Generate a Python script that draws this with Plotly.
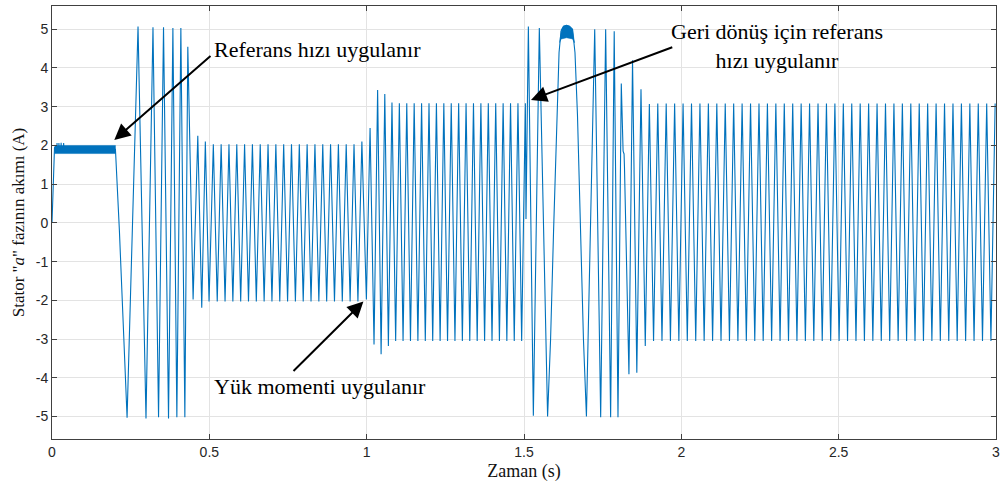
import numpy as np
import plotly.graph_objects as go

# ---------------------------------------------------------------
# Stator phase "a" current (A) versus time (s)
# ---------------------------------------------------------------

# start-up: current settles at ~1.9 A with fast switching ripple
startup_t = [0.0, 0.008, 0.015, 0.016, 0.017, 0.021, 0.022, 0.023, 0.028, 0.029,
             0.030, 0.036, 0.037, 0.038, 0.2016]
startup_i = [0.0, 1.95, 1.85, 2.06, 1.85, 1.85, 2.06, 1.85, 1.85, 2.07,
             1.85, 1.85, 2.06, 1.85, 1.9]
ripple1_t = [0.008, 0.2016, 0.2016, 0.008]
ripple1_i = [1.79, 1.79, 2.0, 2.0]

# acceleration after the speed reference is applied (peaks / troughs)
accel_t = [0.2142, 0.2386, 0.2734, 0.2987, 0.3209, 0.3386, 0.3544, 0.3703, 0.3842,
           0.3968, 0.4095, 0.4222, 0.4316, 0.4484, 0.4633, 0.4759, 0.4873, 0.4991]
accel_i = [-0.2, -5.03, 5.07, -5.05, 5.05, -5.02, 5.05, -5.05, 5.03,
           -5.02, 5.03, -5.02, 4.55, -1.98, 2.25, -2.19, 2.10, -2.03]

# load torque step around 1.0 s
load_t = [0.9848, 0.9991, 1.0108, 1.0234, 1.0348, 1.0459, 1.0576, 1.0690, 1.0804]
load_i = [2.10, -1.98, 2.45, -3.14, 3.43, -3.39, 3.33, -3.18, 3.11]

# speed reversal around 1.5 s
rev_t = [1.5063, 1.5139, 1.5297, 1.5487, 1.5750, 1.5845, 1.5940, 1.6035, 1.6114,
         1.6177, 1.6256, 1.6351, 1.6446, 1.6541, 1.6620, 1.6699, 1.6794, 1.6889,
         1.6984, 1.7247, 1.7437, 1.7595, 1.7753, 1.7867, 1.7987, 1.8092, 1.8149,
         1.8180, 1.8193, 1.8335, 1.8449, 1.8585, 1.8718, 1.8854, 1.8984]
rev_i = [0.10, 5.07, -4.98, 5.03, -5.0, -3.0, -0.2, 2.6, 4.4,
         4.95, 5.08, 5.10, 5.08, 5.0, 4.4, 2.8, 0.0, -3.0,
         -5.0, 5.0, -5.02, 5.0, -5.02, 4.95, -5.02, 3.6, 1.85,
         1.78, 1.45, -3.91, 4.2, -3.87, 3.45, -3.18, 3.07]
ripple2_t = [1.6130, 1.6193, 1.6256, 1.6351, 1.6446, 1.6541, 1.6604,
             1.6541, 1.6351, 1.6193]
ripple2_i = [4.65, 5.0, 5.08, 5.10, 5.08, 5.0, 4.65,
             4.75, 4.78, 4.75]

# steady-state oscillation blocks: first extremum time, period (s),
# number of extrema, peak, trough, and whether the block starts on a peak
blk_start = [0.5127, 1.0921, 1.9117]
blk_period = [0.02484, 0.023557, 0.026804]
blk_count = [38, 36, 82]
blk_peak = [2.03, 3.09, 3.08]
blk_trough = [-2.03, -3.05, -3.05]
blk_peak_first = [True, False, False]


def block(k):
    n = blk_count[k]
    t = [blk_start[k] + j * blk_period[k] / 2 for j in range(n)]
    hi = [(j % 2 == 0) == blk_peak_first[k] for j in range(n)]
    v = [blk_peak[k] if h else blk_trough[k] for h in hi]
    return t, v


bA_t, bA_i = block(0)
bB_t, bB_i = block(1)
bC_t, bC_i = block(2)

t_all = startup_t + accel_t + bA_t + load_t + bB_t + rev_t + bC_t
i_all = startup_i + accel_i + bA_i + load_i + bB_i + rev_i + bC_i

BLUE = "#0072BD"
SERIF = "Liberation Serif, Times New Roman, serif"
SANS = "Liberation Sans, Arial, sans-serif"

fig = go.Figure()
fig.add_trace(go.Scatter(x=ripple1_t, y=ripple1_i, fill="toself", mode="lines",
                         line=dict(color=BLUE, width=0.5), fillcolor=BLUE,
                         hoverinfo="skip"))
fig.add_trace(go.Scatter(x=ripple2_t, y=ripple2_i, fill="toself", mode="lines",
                         line=dict(color=BLUE, width=0.5), fillcolor=BLUE,
                         hoverinfo="skip"))
fig.add_trace(go.Scatter(x=t_all, y=i_all, mode="lines",
                         line=dict(color=BLUE, width=1.1)))

axis_common = dict(
    showgrid=True, gridcolor="#e3e3e3", gridwidth=1,
    zeroline=False, showline=True, linecolor="#404040", linewidth=1,
    mirror="ticks", ticks="inside", ticklen=5, tickcolor="#404040",
    tickfont=dict(family=SANS, size=14, color="#262626"),
)

x_ticks = [0, 0.5, 1, 1.5, 2, 2.5, 3]
x_labels = ["0", "0.5", "1", "1.5", "2", "2.5", "3"]
y_ticks = [-5, -4, -3, -2, -1, 0, 1, 2, 3, 4, 5]

fig.update_xaxes(range=[0, 3], tickvals=x_ticks, ticktext=x_labels,
                 ticklabeloverflow="allow",
                 title=dict(text="Zaman (s)", font=dict(family=SERIF, size=18, color="#111"),
                            standoff=5),
                 **axis_common)
fig.update_yaxes(range=[-5.58, 5.6], tickvals=y_ticks, ticktext=[str(v) for v in y_ticks],
                 title=dict(text='Stator "<i>a</i>" fazının akımı (A)',
                            font=dict(family=SERIF, size=17, color="#111"), standoff=6),
                 **axis_common)

annot_font = dict(family=SERIF, size=22, color="black")
arrows = [
    # head (x, y), tail (ax, ay)
    (0.198, 2.14, 0.5085, 4.34),
    (0.9896, -2.03, 0.7627, -3.864),
    (1.5222, 3.176, 1.976, 4.551),
]
for hx, hy, tx, ty in arrows:
    fig.add_annotation(x=hx, y=hy, ax=tx, ay=ty, axref="x", ayref="y", text="",
                       showarrow=True, arrowhead=2, arrowsize=1.6, arrowwidth=2,
                       arrowcolor="black")

fig.add_annotation(x=0.5085, y=4.47, text="Referans hızı uygulanır", showarrow=False,
                   xanchor="left", yanchor="middle", font=annot_font)
fig.add_annotation(x=0.5085, y=-4.23, text="Yük momenti uygulanır", showarrow=False,
                   xanchor="left", yanchor="middle", font=annot_font)
fig.add_annotation(x=2.303, y=4.57, text="Geri dönüş için referans<br>hızı uygulanır",
                   showarrow=False, xanchor="center", yanchor="middle", align="center",
                   font=annot_font)

fig.update_layout(width=1003, height=484, margin=dict(l=52, r=3, t=6, b=45),
                  plot_bgcolor="white", paper_bgcolor="white", showlegend=False)

fig.write_html("out.html")
